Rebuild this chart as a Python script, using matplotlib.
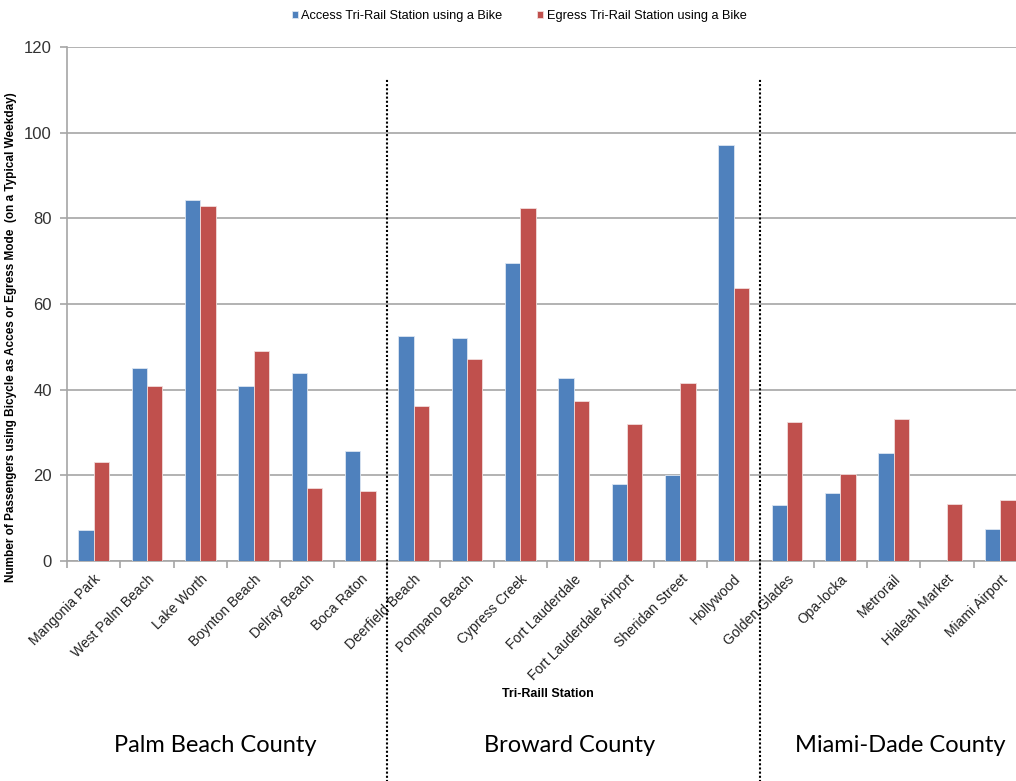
import matplotlib.pyplot as plt
import numpy as np

stations = ["Mangonia Park", "West Palm Beach", "Lake Worth", "Boynton Beach",
            "Delray Beach", "Boca Raton", "Deerfield Beach", "Pompano Beach",
            "Cypress Creek", "Fort Lauderdale", "Fort Lauderdale Airport",
            "Sheridan Street", "Hollywood", "Golden Glades", "Opa-locka",
            "Metrorail", "Hialeah Market", "Miami Airport"]
access = [7.2, 45.0, 84.3, 40.9, 43.8, 25.6, 52.6, 52.1, 69.5, 42.8, 18.0,
          20.1, 97.1, 13.1, 15.8, 25.1, 0, 7.4]
egress = [23.2, 40.9, 82.9, 49.1, 17.0, 16.3, 36.3, 47.2, 82.3, 37.4, 31.9,
          41.5, 63.8, 32.4, 20.4, 33.1, 13.4, 14.2]
counties = ["Palm Beach County", "Broward County", "Miami-Dade County"]
county_breaks = [5.5, 12.5]

# no narrow font available here, Liberation Sans is the closest to Arial
plt.rcParams["font.family"] = ["Liberation Sans", "DejaVu Sans"]

BLUE = "#4f81bd"
RED = "#c0504d"
GREY = "#a6a6a6"

fig = plt.figure(figsize=(10.16, 7.81), dpi=100)
# axes run a bit past the right edge, the original image is cropped there
ax = fig.add_axes([67 / 1016, 220 / 781, 960 / 1016, 514 / 781])

x = np.arange(len(stations))
w = 0.285
ax.bar(x - w / 2, access, w, color=BLUE, edgecolor="#dce6f2", linewidth=0.6,
       label="Access Tri-Rail Station using a Bike", zorder=3)
ax.bar(x + w / 2, egress, w, color=RED, edgecolor="#f2dcdb", linewidth=0.6,
       label="Egress Tri-Rail Station using a Bike", zorder=3)

ax.set_xlim(-0.5, len(stations) - 0.5)
ax.set_ylim(0, 120)
ax.set_yticks(range(0, 121, 20))
ax.yaxis.grid(True, color=GREY, linewidth=1.2, zorder=0)
ax.tick_params(axis="y", labelsize=12, labelcolor="#333333", color=GREY,
               length=5, width=1.2, pad=6)

ax.set_xticks(x)
ax.set_xticklabels(stations, rotation=45, ha="right", rotation_mode="anchor",
                   fontsize=10, color="#222222")
ax.tick_params(axis="x", which="major", length=0, pad=8)
ax.set_xticks(np.arange(-0.5, len(stations), 1), minor=True)
ax.tick_params(axis="x", which="minor", length=5, color=GREY, width=1.2)

for s in ["top", "right"]:
    ax.spines[s].set_visible(False)
for s in ["left", "bottom"]:
    ax.spines[s].set_color(GREY)
    ax.spines[s].set_linewidth(1.2)

ax.set_ylabel("Number of Passengers using Bicycle as Acces or Egress Mode  (on a Typical Weekday)",
              fontsize=8.5, fontweight="bold")
ax.yaxis.set_label_coords(-0.052, 0.436)
ax.set_xlabel("Tri-Raill Station", fontsize=9, fontweight="bold")
ax.xaxis.set_label_coords(0.501, -0.247)

for b in county_breaks:
    ax.axvline(b, ymin=-0.43, ymax=0.94, color="black", linestyle=(0, (1, 1)),
               linewidth=1.5, clip_on=False, zorder=4)

county_x = [215, 570, 900]
for name, cx in zip(counties, county_x):
    fig.text(cx / 1016, 1 - 745 / 781, name, ha="center", va="center",
             fontsize=17, family=["Lato", "DejaVu Sans"])

ax.legend(loc="center", bbox_to_anchor=(0.471, 1.06),
          ncol=2, frameon=False, fontsize=9.2, handlelength=0.45,
          handleheight=0.45, columnspacing=2.7, handletextpad=0.3)

fig.savefig("out.png", dpi=100)
